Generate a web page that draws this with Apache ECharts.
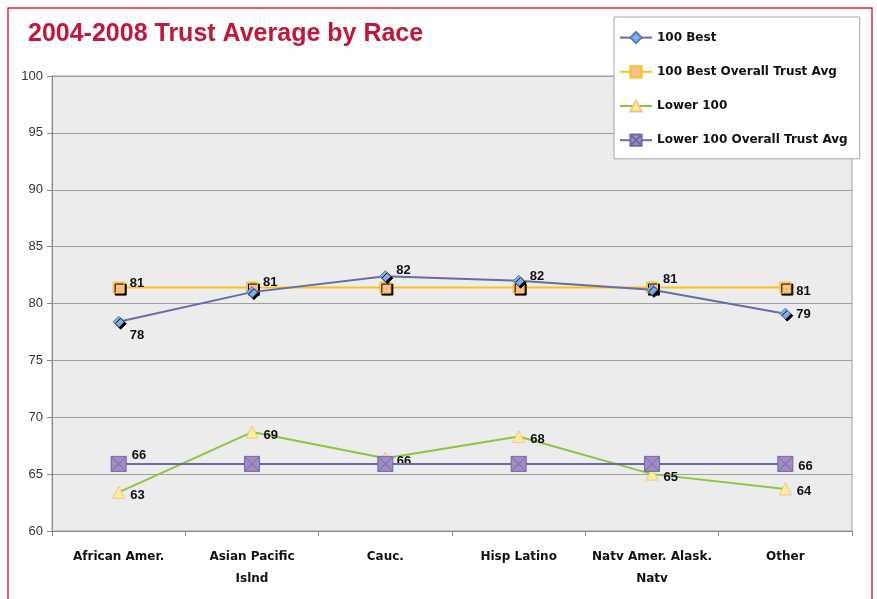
<!DOCTYPE html>
<html>
<head>
<meta charset="utf-8">
<script src="https://cdn.jsdelivr.net/npm/echarts@6/dist/echarts.min.js"></script>
<style>html,body{margin:0;padding:0;background:#fff;}#c{width:877px;height:599px;}</style>
</head>
<body>
<div id="c"></div>
<script>
var categories = ['African Amer.', 'Asian Pacific\nIslnd', 'Cauc.', 'Hisp Latino', 'Natv Amer. Alask.\nNatv', 'Other'];
var best100 = [78.4, 81.0, 82.4, 82.0, 81.2, 79.1];
var best100Avg = [81.4, 81.4, 81.4, 81.4, 81.4, 81.4];
var lower100 = [63.4, 68.7, 66.4, 68.3, 65.0, 63.7];
var lower100Avg = [65.9, 65.9, 65.9, 65.9, 65.9, 65.9];
var yTicks = [60, 65, 70, 75, 80, 85, 90, 95, 100];

// label placement (offsets in px) per point; null = label hidden
var best100LabelOff = [[0, 14], [0, -10], [0, -6], [0, -4], [0, -10], [0, 1]];
var best100AvgLabelOff = [[0, -4], null, null, null, null, [0, 4]];
var lower100LabelOff = [[0, 3], [0, 3], [0, 3], [0, 3], [0, 3], [0, 3]];
var lower100AvgLabelOff = [[0, -8], null, null, null, null, [0, 3]];

function build(vals, offs) {
  return vals.map(function (v, i) {
    var o = offs[i];
    if (!o) return { value: v, label: { show: false } };
    return { value: v, label: { show: true, offset: o } };
  });
}

var labelStyle = {
  show: true, position: 'right', distance: 5,
  color: '#111', fontFamily: 'Liberation Sans', fontWeight: 'bold', fontSize: 13,
  formatter: function (p) { return Math.round(p.value); }
};

var chart = echarts.init(document.getElementById('c'), null, { renderer: 'canvas' });
chart.setOption({
  backgroundColor: '#fff',
  animation: false,
  graphic: [
    { type: 'rect', shape: { x: 8, y: 8, width: 864, height: 620 }, style: { fill: 'none', stroke: '#d42a40', lineWidth: 1.5 }, z: 0 },
    { type: 'text', left: 28, top: 22, style: { text: '2004-2008 Trust Average by Race', fill: '#c1173b', font: 'bold 25px "Liberation Sans", Arial, sans-serif' } }
  ],
  grid: { left: 52, right: 25, top: 76, bottom: 68, show: true, backgroundColor: '#ececec', borderColor: '#a0a0a0', borderWidth: 1 },
  legend: {
    orient: 'vertical', left: 614, top: 17, width: 244,
    backgroundColor: '#fff', borderColor: '#a8a8a8', borderWidth: 1,
    padding: [14, 12, 12, 5], itemGap: 21, itemWidth: 32, itemHeight: 14,
    textStyle: { color: '#111', fontFamily: 'DejaVu Sans', fontWeight: 'bold', fontSize: 12 },
    data: ['100 Best', '100 Best Overall Trust Avg', 'Lower 100', 'Lower 100 Overall Trust Avg']
  },
  xAxis: {
    type: 'category', data: categories, boundaryGap: true,
    axisLine: { lineStyle: { color: '#888', width: 1 } },
    axisTick: { show: true, inside: false, length: 5, lineStyle: { color: '#888' } },
    axisLabel: { color: '#111', fontFamily: 'DejaVu Sans', fontWeight: 'bold', fontSize: 12, margin: 15, lineHeight: 22, interval: 0 },
    splitLine: { show: false }
  },
  yAxis: {
    type: 'value', min: 60, max: 100, interval: 5,
    axisLine: { show: true, lineStyle: { color: '#888' } },
    axisTick: { show: true, inside: false, length: 5, lineStyle: { color: '#888' } },
    axisLabel: { color: '#333', fontFamily: 'Liberation Sans', fontSize: 13, margin: 9,
      formatter: function (v) { return yTicks.indexOf(v) >= 0 ? String(v) : ''; } },
    splitLine: { show: true, lineStyle: { color: '#a0a0a0', width: 1 } }
  },
  series: [
    {
      name: '100 Best', type: 'line', data: build(best100, best100LabelOff), z: 4,
      symbol: 'diamond', symbolSize: 11, showAllSymbol: true,
      lineStyle: { color: '#6a6aa8', width: 2 },
      itemStyle: { color: '#7fb0e4', borderColor: '#5b78b8', borderWidth: 1, shadowColor: '#000', shadowOffsetX: 2, shadowOffsetY: 2, shadowBlur: 0 },
      label: labelStyle
    },
    {
      name: '100 Best Overall Trust Avg', type: 'line', data: build(best100Avg, best100AvgLabelOff), z: 3,
      symbol: 'rect', symbolSize: 11, showAllSymbol: true,
      lineStyle: { color: '#fbc21a', width: 2 },
      itemStyle: { color: '#fbc08d', borderColor: '#fbc21a', borderWidth: 1, shadowColor: '#000', shadowOffsetX: 2, shadowOffsetY: 2, shadowBlur: 0 },
      label: labelStyle
    },
    {
      name: 'Lower 100', type: 'line', data: build(lower100, lower100LabelOff), z: 3,
      symbol: 'triangle', symbolSize: 12, showAllSymbol: true,
      lineStyle: { color: '#8cc63e', width: 2 },
      itemStyle: { color: '#fbee99', borderColor: '#f8c08a', borderWidth: 1 },
      label: labelStyle
    },
    {
      name: 'Lower 100 Overall Trust Avg', type: 'line', data: build(lower100Avg, lower100AvgLabelOff), z: 4,
      symbol: 'path://M0,0 L10,0 L10,10 L0,10 Z M0,0 L10,10 M10,0 L0,10', symbolSize: 15, showAllSymbol: true,
      lineStyle: { color: '#6a6aa8', width: 2 },
      itemStyle: { color: '#a68ac4', borderColor: '#6a6aa8', borderWidth: 1 },
      label: labelStyle
    }
  ]
});
</script>
</body>
</html>
